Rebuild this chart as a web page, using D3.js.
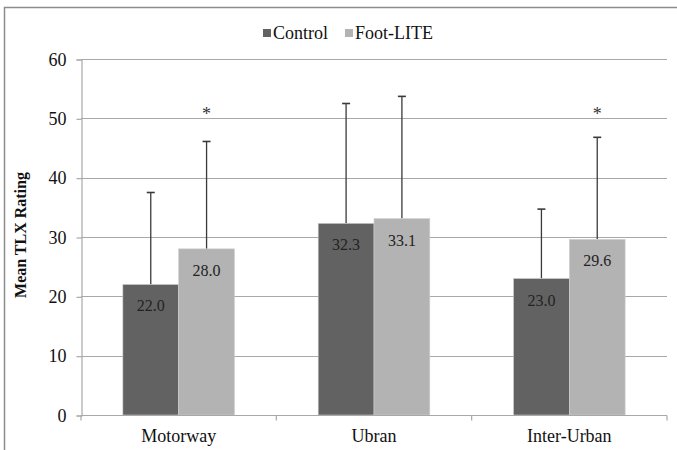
<!DOCTYPE html>
<html>
<head>
<meta charset="utf-8">
<script src="https://cdn.jsdelivr.net/npm/d3@7"></script>
<style>
  body { margin: 0; background: #fff; }
  svg { display: block; }
  svg text { font-family: 'Liberation Serif', 'Times New Roman', serif; }
</style>
</head>
<body>
<svg id="chart" width="677" height="450"></svg>
<script>
  'use strict';

  var categories = ['Motorway', 'Ubran', 'Inter-Urban'];
  var series = ['Control', 'Foot-LITE'];
  var controlMeans = [22.0, 32.3, 23.0];
  var footLiteMeans = [28.0, 33.1, 29.6];
  var controlSD = [15.5, 20.2, 11.7];
  var footLiteSD = [18.1, 20.6, 17.2];
  var significant = [true, false, true];
  var yTicks = [0, 10, 20, 30, 40, 50, 60];

  var colors = { 'Control': '#626262', 'Foot-LITE': '#b3b3b3' };
  var gridColor = '#a8a8a8';
  var textColor = '#111';

  var svg = d3.select('#chart');

  // outer frame (right and bottom edges fall outside the picture)
  svg.append('rect')
    .attr('x', 4.5)
    .attr('y', 7.5)
    .attr('width', 720)
    .attr('height', 470)
    .attr('fill', '#fff')
    .attr('stroke', '#8c8c8c')
    .attr('stroke-width', 1.5);

  var plot = { left: 81, right: 667, top: 59, bottom: 415 };

  var x0 = d3.scaleBand()
    .domain(categories)
    .range([plot.left, plot.right])
    .paddingInner(0)
    .paddingOuter(0);

  var x1 = d3.scaleBand()
    .domain(series)
    .range([0, x0.bandwidth()])
    .paddingInner(0)
    .paddingOuter(0.75);

  var y = d3.scaleLinear()
    .domain([0, 60])
    .range([plot.bottom, plot.top]);

  // gridlines
  svg.append('g')
    .selectAll('line.grid')
    .data(yTicks.slice(1))
    .enter()
    .append('line')
    .attr('class', 'grid')
    .attr('x1', plot.left)
    .attr('x2', plot.right)
    .attr('y1', function(d) { return Math.round(y(d)) + 0.5; })
    .attr('y2', function(d) { return Math.round(y(d)) + 0.5; })
    .attr('stroke', gridColor)
    .attr('stroke-width', 1.2);

  // y axis
  var yAxis = d3.axisLeft(y)
    .tickValues(yTicks)
    .tickSize(5)
    .tickPadding(10)
    .tickFormat(d3.format('d'));

  var gy = svg.append('g')
    .attr('transform', 'translate(' + (plot.left + 0.5) + ',0.5)')
    .call(yAxis);
  gy.attr('font-family', null);
  gy.select('.domain').attr('stroke', gridColor).attr('stroke-width', 1.2);
  gy.selectAll('.tick line').attr('stroke', gridColor).attr('stroke-width', 1.2);
  gy.selectAll('.tick text')
    .attr('fill', textColor)
    .style('font-size', '18px');

  // bars
  var rows = categories.map(function(c, i) {
    return [
      { cat: c, key: 'Control', value: controlMeans[i], sd: controlSD[i] },
      { cat: c, key: 'Foot-LITE', value: footLiteMeans[i], sd: footLiteSD[i] }
    ];
  });

  var groups = svg.append('g')
    .selectAll('g.cat')
    .data(rows)
    .enter()
    .append('g')
    .attr('class', 'cat')
    .attr('transform', function(d) { return 'translate(' + x0(d[0].cat) + ',0)'; });

  // error bars (upper only), drawn behind the bars
  var err = groups.selectAll('g.err')
    .data(function(d) { return d; })
    .enter()
    .append('g')
    .attr('class', 'err');

  err.append('line')
    .attr('x1', function(d) { return x1(d.key) + x1.bandwidth() / 2; })
    .attr('x2', function(d) { return x1(d.key) + x1.bandwidth() / 2; })
    .attr('y1', function(d) { return y(d.value); })
    .attr('y2', function(d) { return y(d.value + d.sd); })
    .attr('stroke', '#3a3a3a')
    .attr('stroke-width', 1.3);

  err.append('line')
    .attr('x1', function(d) { return x1(d.key) + x1.bandwidth() / 2 - 4; })
    .attr('x2', function(d) { return x1(d.key) + x1.bandwidth() / 2 + 4; })
    .attr('y1', function(d) { return y(d.value + d.sd); })
    .attr('y2', function(d) { return y(d.value + d.sd); })
    .attr('stroke', '#3a3a3a')
    .attr('stroke-width', 1.6);

  groups.selectAll('rect.bar')
    .data(function(d) { return d; })
    .enter()
    .append('rect')
    .attr('class', 'bar')
    .attr('x', function(d) { return x1(d.key); })
    .attr('y', function(d) { return y(d.value); })
    .attr('width', x1.bandwidth())
    .attr('height', function(d) { return y(0) - y(d.value); })
    .attr('fill', function(d) { return colors[d.key]; })
    .attr('stroke', '#cfcfcf')
    .attr('stroke-width', 0.6);

  groups.selectAll('text.val')
    .data(function(d) { return d; })
    .enter()
    .append('text')
    .attr('class', 'val')
    .attr('x', function(d) { return x1(d.key) + x1.bandwidth() / 2; })
    .attr('y', function(d) { return y(d.value) + 27; })
    .attr('text-anchor', 'middle')
    .attr('fill', '#222')
    .style('font-size', '16px')
    .text(function(d) { return d3.format('.1f')(d.value); });

  // significance markers
  groups.filter(function(d, i) { return significant[i]; })
    .append('text')
    .attr('x', x1('Foot-LITE') + x1.bandwidth() / 2)
    .attr('y', y(51.4) + 10)
    .attr('text-anchor', 'middle')
    .attr('fill', '#333')
    .style('font-size', '18px')
    .text('*');

  // x axis
  var gx = svg.append('g')
    .attr('transform', 'translate(0,' + (plot.bottom + 0.5) + ')');
  gx.append('line')
    .attr('x1', plot.left)
    .attr('x2', plot.right)
    .attr('stroke', gridColor)
    .attr('stroke-width', 1.2);
  gx.selectAll('line.tick')
    .data(categories.concat(['end']))
    .enter()
    .append('line')
    .attr('class', 'tick')
    .attr('x1', function(d) { return d === 'end' ? plot.right : x0(d); })
    .attr('x2', function(d) { return d === 'end' ? plot.right : x0(d); })
    .attr('y1', 0)
    .attr('y2', 5)
    .attr('stroke', gridColor)
    .attr('stroke-width', 1.2);
  gx.selectAll('text')
    .data(categories)
    .enter()
    .append('text')
    .attr('x', function(d) { return x0(d) + x0.bandwidth() / 2; })
    .attr('y', 26)
    .attr('text-anchor', 'middle')
    .attr('fill', textColor)
    .style('font-size', '18px')
    .text(function(d) { return d; });

  // y axis title
  svg.append('text')
    .attr('transform', 'translate(26,' + ((plot.top + plot.bottom) / 2 - 2) + ') rotate(-90)')
    .attr('text-anchor', 'middle')
    .attr('fill', textColor)
    .style('font-size', '16px')
    .style('font-weight', 'bold')
    .text('Mean TLX Rating');

  // legend
  var legendX = [263, 345];
  var legend = svg.append('g')
    .selectAll('g.legend')
    .data(series)
    .enter()
    .append('g')
    .attr('class', 'legend')
    .attr('transform', function(d, i) { return 'translate(' + legendX[i] + ',0)'; });
  legend.append('rect')
    .attr('x', 0)
    .attr('y', 29)
    .attr('width', 8)
    .attr('height', 8)
    .attr('fill', function(d) { return colors[d]; });
  legend.append('text')
    .attr('x', 10)
    .attr('y', 38.5)
    .attr('fill', textColor)
    .style('font-size', '18px')
    .text(function(d) { return d; });
</script>
</body>
</html>
